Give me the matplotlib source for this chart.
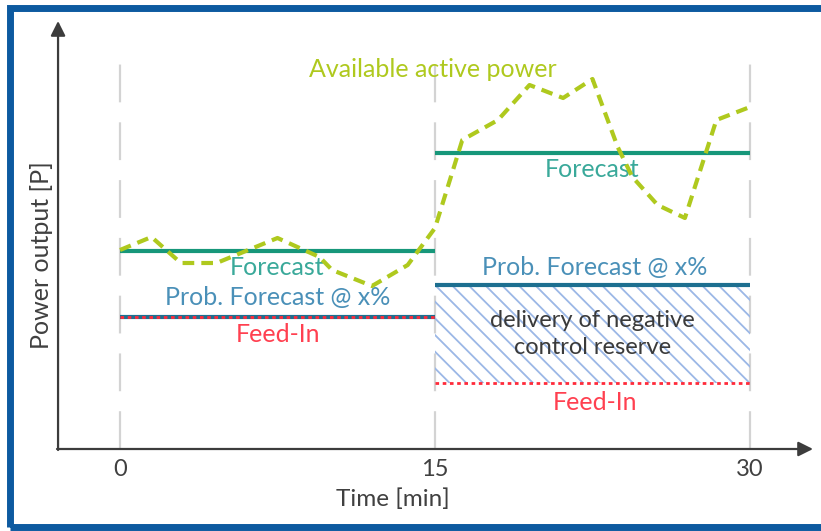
import numpy as np
import matplotlib
matplotlib.use('Agg')
import matplotlib.pyplot as plt
import matplotlib.patches as mpatches

plt.rcParams['font.family'] = ['Lato', 'DejaVu Sans']
plt.rcParams['hatch.linewidth'] = 1.3

# available active power (time in min, power in arbitrary units)
t_avail = [0, 1.5, 2.9, 4.6, 7.5, 9.5, 10.1, 12.0, 13.7, 15.0, 16.3, 18.0,
           19.5, 21.1, 22.5, 23.7, 24.4, 25.6, 26.9, 28.4, 30.0]
p_avail = [19.9, 21.2, 18.6, 18.6, 21.1, 19.2, 17.9, 16.3, 18.4, 22.1, 30.9, 32.9,
           36.4, 35.1, 37.0, 30.2, 27.2, 24.4, 23.1, 32.9, 34.2]

# step levels for the two 15 min intervals
intervals = [(0, 15), (15, 30)]
forecast = [19.8, 29.6]
prob_forecast = [13.2, 16.4]
feed_in = [13.2, 6.6]

ticks = [0, 15, 30]
tick_labels = ['0', '15', '30']

c_green = '#afc91e'
c_forecast = '#17977a'
c_forecast_txt = '#3aa99a'
c_prob = '#1d6f90'
c_prob_txt = '#4a90b8'
c_feed = '#ff2a3a'
c_feed_txt = '#ff4050'
c_axis = '#3c3c3c'

fig = plt.figure(figsize=(8.21, 5.31), dpi=100)
ax = fig.add_axes([0, 0, 1, 1])
# 1 min = 21 px, 1 unit = 10 px, origin at pixel (120, 449)
ax.set_xlim(-120 / 21, (821 - 120) / 21)
ax.set_ylim(-(531 - 449) / 10, 449 / 10)
ax.axis('off')

# grey dashed guide lines
for t in ticks:
    ax.plot([t, t], [0, 39.6], color='#d3d3d3', lw=1.6, dashes=(17, 9),
            solid_capstyle='butt', zorder=1)

# axes with arrows
x0 = -2.95
ax.annotate('', xy=(x0, 42.8), xytext=(x0, -0.1),
            arrowprops=dict(arrowstyle='-|>', color=c_axis, lw=1.6,
                            mutation_scale=22, shrinkA=0, shrinkB=0,
                            facecolor='black'))
ax.annotate('', xy=(33.0, 0), xytext=(x0 - 0.05, 0),
            arrowprops=dict(arrowstyle='-|>', color=c_axis, lw=1.6,
                            mutation_scale=22, shrinkA=0, shrinkB=0,
                            facecolor='black'))

for t, lab in zip(ticks, tick_labels):
    ax.text(t, -2.0, lab, ha='center', va='center', fontsize=17, color='#404040')
ax.text(13.0, -5.0, 'Time [min]', ha='center', va='center', fontsize=17.5, color='#404040')
ax.text(-3.75, 19.4, 'Power output [P]', ha='center', va='center', rotation=90,
        fontsize=18, color='#404040')

# hatched control reserve
a, b = intervals[1]
ax.add_patch(mpatches.Rectangle((a, feed_in[1]), b - a, prob_forecast[1] - feed_in[1],
                                facecolor='none', edgecolor='#9bb7e6', lw=0,
                                hatch='\\\\', zorder=2))

for (a, b), f, p, d in zip(intervals, forecast, prob_forecast, feed_in):
    ax.plot([a, b], [f, f], color=c_forecast, lw=3, solid_capstyle='butt', zorder=3)
    ax.plot([a, b], [p, p], color=c_prob, lw=3, solid_capstyle='butt', zorder=3)
    ax.plot([a, b], [d, d], color=c_feed, lw=2, dashes=(1.3, 1.3), zorder=4)

ax.plot(t_avail, p_avail, color=c_green, lw=3, dashes=(2.8, 1.7), zorder=5)

# labels
ax.text(14.9, 37.9, 'Available active power', ha='center', va='center',
        fontsize=18, color=c_green)
ax.text(7.5, 18.1, 'Forecast', ha='center', va='center', fontsize=18, color=c_forecast_txt)
ax.text(22.5, 27.9, 'Forecast', ha='center', va='center', fontsize=18, color=c_forecast_txt)
ax.text(7.5, 15.1, 'Prob. Forecast @ x%', ha='center', va='center', fontsize=18, color=c_prob_txt)
ax.text(22.6, 18.1, 'Prob. Forecast @ x%', ha='center', va='center', fontsize=18, color=c_prob_txt)
ax.text(7.5, 11.5, 'Feed-In', ha='center', va='center', fontsize=18, color=c_feed_txt)
ax.text(22.6, 4.7, 'Feed-In', ha='center', va='center', fontsize=18, color=c_feed_txt)
ax.text(22.5, 11.5, 'delivery of negative\ncontrol reserve', ha='center', va='center',
        fontsize=17, color='#3a3a3a', linespacing=1.4)

# blue frame of the picture
fig.patches.append(mpatches.Rectangle((10 / 821, 4 / 531), 1.2, 519 / 531,
                                      transform=fig.transFigure, fill=False,
                                      edgecolor='#0d5aa0', lw=5, zorder=10))

fig.savefig('out.png', dpi=100)
